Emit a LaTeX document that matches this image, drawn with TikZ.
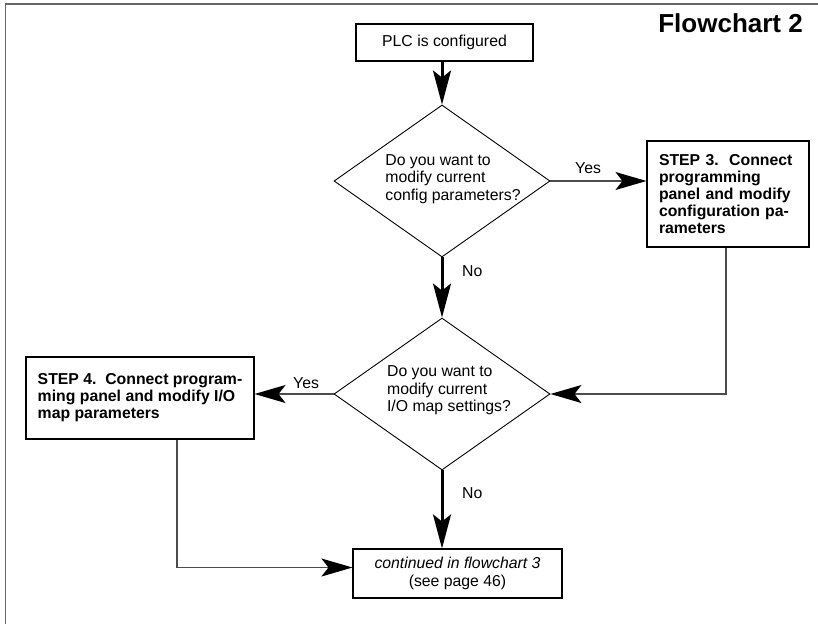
\documentclass[tikz,border=0pt]{standalone}
\usepackage{fontspec}
\setmainfont{Liberation Sans}
\usetikzlibrary{shapes.geometric,arrows.meta}
\begin{document}
\begin{tikzpicture}[x=1pt,y=-1pt,
  font=\fontsize{15.8}{17.5}\selectfont,
  box/.style={draw=black, line width=1.1pt, inner sep=0pt},
  stepbox/.style={box, font=\bfseries\fontsize{15.8}{17}\selectfont, align=left},
  decision/.style={draw=black, line width=0.9pt, shape=diamond, inner sep=0pt,
    minimum width=216pt, minimum height=152pt},
  qtext/.style={inner sep=0pt, align=left},
  lbl/.style={inner sep=0pt, anchor=base west},
  bigflow/.style={line width=3pt, draw=black,
    -{Stealth[length=34pt, width=18pt, inset=7pt]}},
  thinflow/.style={line width=1.2pt, draw=black!70,
    -{Stealth[length=31pt, width=18pt, inset=7pt, color=black]}}
]
\useasboundingbox (0,0) rectangle (818,624);

% page frame (top and left rule)
\draw[black!60, line width=1.6pt] (5.5,624) -- (5.5,4) -- (818,4);

% title
\node[anchor=base east, inner sep=0pt, font=\bfseries\fontsize{26}{28}\selectfont]
  (title) at (803,32) {Flowchart 2};

% boxes and decisions
\node[box, minimum width=177pt, minimum height=37pt] (start) at (444.5,42.5)
  {PLC is configured};
\node[decision] (d1) at (442,181) {};
\node[qtext] (d1t) at (453,179) {Do you want to\\modify current\\config parameters?};
\node[stepbox, text width=138pt, minimum width=162pt, minimum height=106pt]
  (s3) at (728,194) {STEP 3.\ \ Connect\\programming\\panel and modify\\configuration pa-\\rameters};
\node[decision] (d2) at (442,394) {};
\node[qtext] (d2t) at (449,390.5) {Do you want to\\modify current\\I/O map settings?};
\node[stepbox, minimum width=228pt, minimum height=82pt]
  (s4) at (140,398) {STEP 4.\ \ Connect program-\\ming panel and modify I/O\\map parameters};
\node[box, align=center, minimum width=209pt, minimum height=49pt] (cont) at (457.5,573.5)
  {\itshape continued in flowchart 3\\(see page 46)};

% connectors
\draw[bigflow] (d1.north |- start.south) -- (d1.north);
\draw[thinflow] (d1.east) -- (d1.east -| s3.west);
\draw[bigflow] (d1.south) -- (d2.north);
\draw[thinflow] ([xshift=-2pt]s3.south) |- (d2.east);
\draw[thinflow] (d2.west) -- (d2.west -| s4.east);
\draw[bigflow] (d2.south) -- (d2.south |- cont.north);
\draw[thinflow] ([xshift=37pt]s4.south) |- ([yshift=6pt]cont.west);

% branch labels
\node[lbl] (y1) at (575,173) {Yes};
\node[lbl] (n1) at (462,276) {No};
\node[lbl] (y2) at (293,388) {Yes};
\node[lbl] (n2) at (462,498) {No};
\end{tikzpicture}
\end{document}
